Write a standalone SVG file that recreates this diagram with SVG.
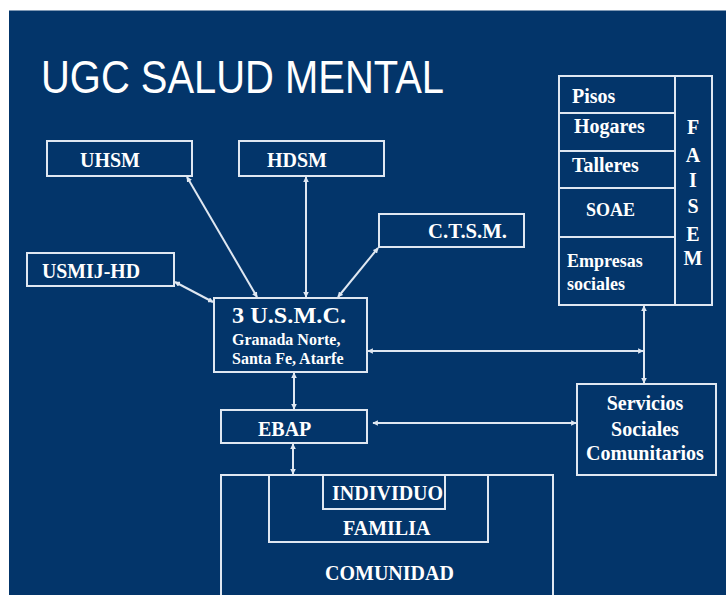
<svg xmlns="http://www.w3.org/2000/svg" width="726" height="595" viewBox="0 0 726 595">
<style>
.box{fill:none;stroke:#dfe7f1;stroke-width:2}
.ln{fill:none;stroke:#dfe7f1;stroke-width:2}
.t{font-family:"Liberation Serif","Times New Roman",serif;font-weight:bold;fill:#ffffff}
.title{font-family:"Liberation Sans",Arial,sans-serif;fill:#ffffff}
</style>
<defs>
<marker id="ah" viewBox="0 0 8 8" refX="7" refY="4" markerWidth="2.8" markerHeight="2.8" orient="auto-start-reverse" markerUnits="strokeWidth">
<path d="M0,0 L8,4 L0,8 z" fill="#dfe7f1"/>
</marker>
</defs>
<rect x="0" y="0" width="726" height="595" fill="#ffffff"/>
<rect x="9" y="10.5" width="717" height="584.5" fill="#03356a"/>
<text class="title" x="41" y="93" font-size="47" textLength="403" lengthAdjust="spacingAndGlyphs">UGC SALUD MENTAL</text>

<g id="connectors">
<line class="ln" x1="187" y1="177" x2="257" y2="297" marker-start="url(#ah)" marker-end="url(#ah)"/>
<line class="ln" x1="306" y1="177" x2="306" y2="297" marker-start="url(#ah)" marker-end="url(#ah)"/>
<line class="ln" x1="378" y1="248" x2="338" y2="297" marker-start="url(#ah)" marker-end="url(#ah)"/>
<line class="ln" x1="175" y1="282" x2="213" y2="302" marker-start="url(#ah)" marker-end="url(#ah)"/>
<line class="ln" x1="368" y1="351" x2="643" y2="351" marker-start="url(#ah)" marker-end="url(#ah)"/>
<line class="ln" x1="644" y1="306" x2="644" y2="383" marker-start="url(#ah)" marker-end="url(#ah)"/>
<line class="ln" x1="294" y1="373" x2="294" y2="409" marker-start="url(#ah)" marker-end="url(#ah)"/>
<line class="ln" x1="373" y1="423" x2="576" y2="423" marker-start="url(#ah)" marker-end="url(#ah)"/>
<line class="ln" x1="293" y1="444" x2="293" y2="474" marker-start="url(#ah)" marker-end="url(#ah)"/>
</g>

<g id="uhsm">
<rect class="box" x="47" y="141" width="145" height="35"/>
<text class="t" x="80" y="167" font-size="20">UHSM</text>
</g>
<g id="hdsm">
<rect class="box" x="239" y="141" width="145" height="35"/>
<text class="t" x="267" y="167" font-size="20">HDSM</text>
</g>
<g id="ctsm">
<rect class="box" x="379" y="214" width="145" height="33"/>
<text class="t" x="428" y="238" font-size="20" textLength="79" lengthAdjust="spacingAndGlyphs">C.T.S.M.</text>
</g>
<g id="usmij">
<rect class="box" x="27" y="253" width="147" height="33"/>
<text class="t" x="42" y="278" font-size="20" textLength="98" lengthAdjust="spacingAndGlyphs">USMIJ-HD</text>
</g>
<g id="usmc">
<rect class="box" x="214" y="298" width="153" height="74"/>
<text class="t" x="232" y="323" font-size="23" textLength="114" lengthAdjust="spacingAndGlyphs">3 U.S.M.C.</text>
<text class="t" x="232" y="345" font-size="16">Granada Norte,</text>
<text class="t" x="232" y="364" font-size="16">Santa Fe, Atarfe</text>
</g>
<g id="faisem">
<rect class="box" x="559" y="76" width="153" height="229"/>
<line class="ln" x1="675" y1="76" x2="675" y2="305"/>
<line class="ln" x1="559" y1="113" x2="675" y2="113"/>
<line class="ln" x1="559" y1="151" x2="675" y2="151"/>
<line class="ln" x1="559" y1="188" x2="675" y2="188"/>
<line class="ln" x1="559" y1="237" x2="675" y2="237"/>
<text class="t" x="572" y="103" font-size="20">Pisos</text>
<text class="t" x="574" y="133" font-size="20">Hogares</text>
<text class="t" x="572" y="172" font-size="20">Talleres</text>
<text class="t" x="586" y="216" font-size="18">SOAE</text>
<text class="t" x="567" y="267" font-size="18">Empresas</text>
<text class="t" x="567" y="290" font-size="18">sociales</text>
<g text-anchor="middle">
<text class="t" x="693" y="134" font-size="20">F</text>
<text class="t" x="693" y="162" font-size="20">A</text>
<text class="t" x="693" y="187" font-size="20">I</text>
<text class="t" x="693" y="213" font-size="20">S</text>
<text class="t" x="693" y="241" font-size="20">E</text>
<text class="t" x="693" y="265" font-size="20">M</text>
</g>
</g>
<g id="servicios">
<rect class="box" x="577" y="384" width="139" height="91"/>
<g text-anchor="middle">
<text class="t" x="645" y="410" font-size="20">Servicios</text>
<text class="t" x="645" y="436" font-size="20">Sociales</text>
<text class="t" x="645" y="460" font-size="20">Comunitarios</text>
</g>
</g>
<g id="ebap">
<rect class="box" x="221" y="410" width="146" height="33"/>
<text class="t" x="258" y="436" font-size="20">EBAP</text>
</g>
<g id="comunidad">
<rect class="box" x="221" y="475" width="332" height="130"/>
<text class="t" x="325" y="580" font-size="20">COMUNIDAD</text>
</g>
<g id="familia">
<rect class="box" x="269" y="475" width="219" height="67"/>
<text class="t" x="343" y="535" font-size="20">FAMILIA</text>
</g>
<g id="individuo">
<rect class="box" x="323" y="475" width="122" height="34"/>
<text class="t" x="332" y="500" font-size="20">INDIVIDUO</text>
</g>
</svg>
